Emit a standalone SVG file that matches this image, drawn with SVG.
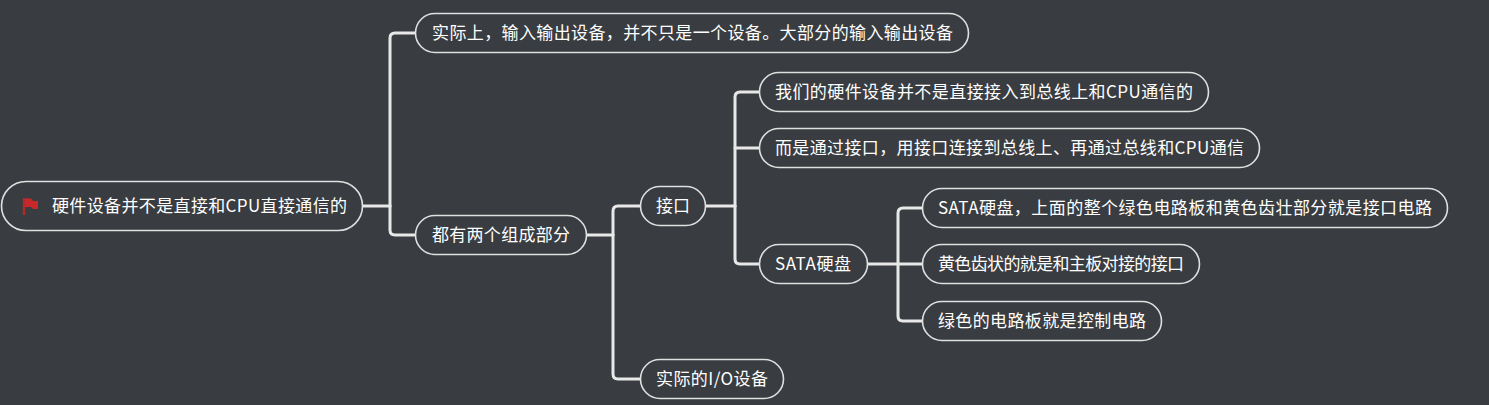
<svg xmlns="http://www.w3.org/2000/svg" width="1489" height="405" viewBox="0 0 1489 405">
<style>
.bg{fill:#393c40}
.node rect{fill:#393c40;stroke:#e0e0e0;stroke-width:1.6}
.node text{fill:#ffffff;font-family:"Microsoft YaHei","Noto Sans CJK SC","Noto Sans",sans-serif;font-size:17px}
.conn path{fill:none;stroke:#e8e8e8;stroke-width:3;stroke-linecap:round;stroke-linejoin:round}
</style>
<rect class="bg" x="0" y="0" width="1489" height="405"/>
<g class="conn" id="connectors">
<path d="M362,206 H390"/>
<path d="M390,206 V38 Q390,33 395,33 H415"/>
<path d="M390,206 V230 Q390,235 395,235 H415"/>
<path d="M586,235 H613"/>
<path d="M613,235 V211 Q613,206 618,206 H640"/>
<path d="M613,235 V374 Q613,379 618,379 H640"/>
<path d="M706,206 H735"/>
<path d="M735,206 V97 Q735,92 740,92 H759"/>
<path d="M735,148 H759"/>
<path d="M735,206 V259 Q735,264 740,264 H759"/>
<path d="M868,264 H898"/>
<path d="M898,264 V213 Q898,208 903,208 H922"/>
<path d="M898,264 H922"/>
<path d="M898,264 V316 Q898,321 903,321 H922"/>
</g>
<g class="node" id="root">
<rect x="1.5" y="181.5" width="361" height="49" rx="24.5"/>
<path d="M24,198 V215" stroke="#b02a2a" stroke-width="2.5" fill="none"/>
<path d="M25,198.5 H31 L33,201 H38 V209 H33 L31,207 H25 Z" fill="#c8282a"/>
<text x="52" y="212" textLength="295" lengthAdjust="spacing">硬件设备并不是直接和CPU直接通信的</text>
</g>
<g class="node" id="n1">
<rect x="415.5" y="13.5" width="553" height="39" rx="19.5"/>
<text x="432" y="39" textLength="521" lengthAdjust="spacing">实际上，输入输出设备，并不只是一个设备。大部分的输入输出设备</text>
</g>
<g class="node" id="n2">
<rect x="415.5" y="215.5" width="171" height="39" rx="19.5"/>
<text x="432" y="241" textLength="138" lengthAdjust="spacing">都有两个组成部分</text>
</g>
<g class="node" id="n3">
<rect x="640.5" y="186.5" width="65" height="39" rx="19.5"/>
<text x="656" y="212" textLength="34" lengthAdjust="spacing">接口</text>
</g>
<g class="node" id="n4">
<rect x="640.5" y="359.5" width="143" height="39" rx="19.5"/>
<text x="656" y="385" textLength="112" lengthAdjust="spacing">实际的I/O设备</text>
</g>
<g class="node" id="n5">
<rect x="759.5" y="72.5" width="449" height="39" rx="19.5"/>
<text x="775" y="98" textLength="418" lengthAdjust="spacing">我们的硬件设备并不是直接接入到总线上和CPU通信的</text>
</g>
<g class="node" id="n6">
<rect x="759.5" y="128.5" width="500" height="39" rx="19.5"/>
<text x="775" y="154" textLength="469" lengthAdjust="spacing">而是通过接口，用接口连接到总线上、再通过总线和CPU通信</text>
</g>
<g class="node" id="n7">
<rect x="759.5" y="244.5" width="108" height="39" rx="19.5"/>
<text x="775" y="270" textLength="76" lengthAdjust="spacing">SATA硬盘</text>
</g>
<g class="node" id="n8">
<rect x="922.5" y="188.5" width="525" height="39" rx="19.5"/>
<text x="938" y="214" textLength="494" lengthAdjust="spacing">SATA硬盘，上面的整个绿色电路板和黄色齿壮部分就是接口电路</text>
</g>
<g class="node" id="n9">
<rect x="922.5" y="244.5" width="277" height="39" rx="19.5"/>
<text x="938" y="270" textLength="246" lengthAdjust="spacing">黄色齿状的就是和主板对接的接口</text>
</g>
<g class="node" id="n10">
<rect x="922.5" y="301.5" width="239" height="39" rx="19.5"/>
<text x="938" y="327" textLength="208" lengthAdjust="spacing">绿色的电路板就是控制电路</text>
</g>
</svg>
